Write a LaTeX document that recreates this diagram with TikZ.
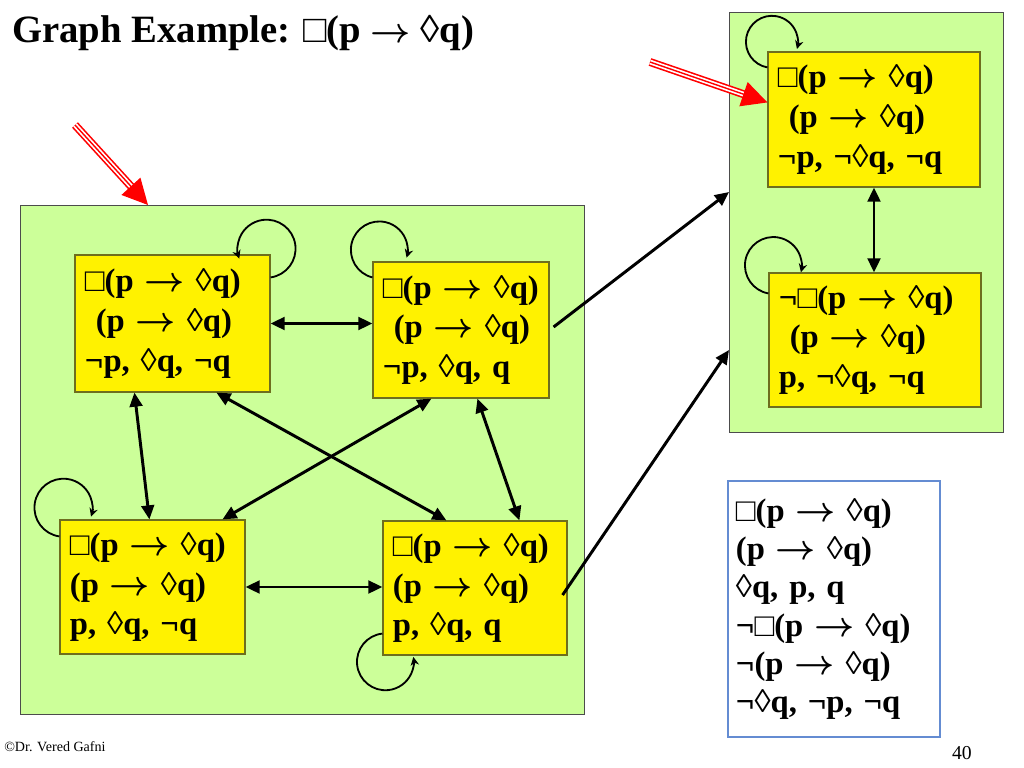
\documentclass[tikz,border=0pt]{standalone}
\usepackage{fontspec}
\setmainfont{Liberation Serif}
\usetikzlibrary{arrows.meta, positioning, calc}
\definecolor{zonegreen}{RGB}{204,255,153}
\definecolor{boxedge}{RGB}{110,110,30}
\definecolor{boxblue}{RGB}{100,140,210}
\newcommand{\statefont}{\fontsize{23.2}{28.4}\selectfont\bfseries\boldmath}
\newcommand{\imp}{$\rightarrow$}

\begin{document}
\begin{tikzpicture}[
    x=0.025cm, y=0.025cm,
    zone/.style={draw=black!70, fill=zonegreen, line width=0.6pt},
    state/.style={rectangle, draw=boxedge, fill=yellow, line width=0.8pt, align=left, inner xsep=0.25cm, inner ysep=0pt, font=\statefont},
    note/.style={rectangle, draw=boxblue, fill=white, line width=0.8pt, align=left, inner xsep=0.2cm, inner ysep=0pt, font=\fontsize{23.2}{27.3}\selectfont\bfseries\boldmath},
    link/.style={{Triangle[length=10pt,width=9pt]}-{Triangle[length=10pt,width=9pt]}, line width=2.1pt},
    jump/.style={-{Triangle[length=10pt,width=9pt]}, line width=2.1pt},
    selfloop/.style={-{Stealth[length=6pt,width=6pt]}, line width=1.3pt},
    pointer/.style={draw=red, line width=1pt, -{Triangle[length=18pt,width=18pt]},
        preaction={draw=red, line width=5.7pt, -, shorten >=16pt},
        preaction={draw=white, line width=3.4pt, -, shorten >=16pt}}
]
\fill[white] (0,0) rectangle (1024,-768);
\useasboundingbox (0,0) rectangle (1024,-768);

% Title
\node[anchor=base west, inner sep=0pt, font=\fontsize{27.5}{33}\selectfont\bfseries\boldmath] (title) at (12,-43) {Graph Example: □(p \imp{} ◊q)};

% Zones
\draw[zone] (20,-205) coordinate (lz) rectangle (584,-714);
\draw[zone] (729,-12) coordinate (rz) rectangle (1003,-432);

% Nodes
\node[state, text width=4.375cm, minimum height=3.425cm] (a) at (172.5,-323.5) {□(p \imp{} ◊q)\\~(p \imp{} ◊q)\\¬p, ◊q, ¬q};
\node[state, text width=3.9cm, minimum height=3.4cm] (b) at (461,-330) {□(p \imp{} ◊q)\\~(p \imp{} ◊q)\\¬p, ◊q, q};
\node[state, text width=4.125cm, minimum height=3.35cm] (c) at (152.5,-587) {□(p \imp{} ◊q)\\(p \imp{} ◊q)\\p, ◊q, ¬q};
\node[state, text width=4.1cm, minimum height=3.35cm] (d) at (475,-588) {□(p \imp{} ◊q)\\(p \imp{} ◊q)\\p, ◊q, q};
\node[state, text width=4.8cm, minimum height=3.375cm] (e) at (874,-119.5) {□(p \imp{} ◊q)\\~(p \imp{} ◊q)\\¬p, ¬◊q, ¬q};
\node[state, text width=4.8cm, minimum height=3.35cm] (f) at (875,-340) {¬□(p \imp{} ◊q)\\~(p \imp{} ◊q)\\p, ¬◊q, ¬q};
\node[note, text width=4.9cm, minimum height=6.4cm] (g) at (834,-609) {□(p \imp{} ◊q)\\(p \imp{} ◊q)\\◊q, p, q\\¬□(p \imp{} ◊q)\\¬(p \imp{} ◊q)\\¬◊q, ¬p, ¬q};

% Start pointers
\coordinate (p1) at (75,-125);
\coordinate (p2) at (650,-62);
\draw[pointer] (p1) -- ($(lz)+(128,0)$);
\draw[pointer] (p2) -- ($(e.north west)+(0,-51)$);

% Arrows
\draw[link] (a.east) -- (a.east -| b.west);
\draw[link] (c.east) -- (c.east -| d.west);
\draw[link] ($(a.south west)+(60,0)$) -- ($(c.north west)+(90,0)$);
\draw[link] ($(a.south west)+(142,0)$) -- ($(d.north west)+(64,0)$);
\draw[link] ($(b.south west)+(59,0)$) -- ($(c.north west)+(163,0)$);
\draw[link] ($(b.south west)+(105,0)$) -- ($(d.north west)+(137,0)$);
\draw[link] (e.south) -- (e.south |- f.north);
\draw[jump] ($(b.east)+(4,3)$) -- ($(rz)+(0,-180)$);
\draw[jump] ($(d.east)+(-5,-7)$) -- ($(rz)+(0,-338)$);

% Self loops
\draw[selfloop] ($(a.north east)+(0,-23)$) arc[start angle=-82, end angle=200, radius=0.725cm];
\draw[selfloop] ($(b.north west)+(0,-16)$) arc[start angle=256, end angle=-16, radius=0.71cm];
\draw[selfloop] ($(c.north west)+(0,-17)$) arc[start angle=262, end angle=-18, radius=0.725cm];
\draw[selfloop] ($(d.south west)+(0,22)$) arc[start angle=96, end angle=370, radius=0.71cm];
\draw[selfloop] ($(e.north west)+(0,-16)$) arc[start angle=260, end angle=-16, radius=0.65cm];
\draw[selfloop] ($(f.north west)+(0,-21)$) arc[start angle=260, end angle=-14, radius=0.71cm];

% Footer
\node[anchor=base west, inner sep=0pt, font=\fontsize{10}{12}\selectfont] (credit) at (4,-751) {©Dr. Vered Gafni};
\node[anchor=base east, inner sep=0pt, font=\fontsize{14}{16}\selectfont] (pageno) at (972,-759) {40};
\end{tikzpicture}
\end{document}
